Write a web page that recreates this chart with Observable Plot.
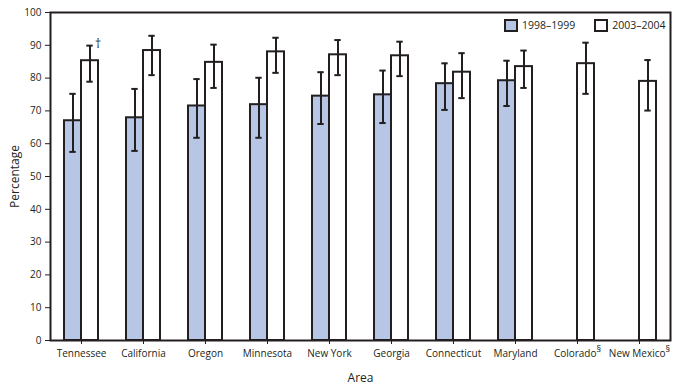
<!DOCTYPE html>
<html>
<head>
<meta charset="utf-8">
<script src="https://cdn.jsdelivr.net/npm/d3@7"></script>
<script src="https://cdn.jsdelivr.net/npm/@observablehq/plot@0.6"></script>
<style>
  html, body { margin: 0; padding: 0; background: #fff; }
  #wrap { position: relative; width: 685px; height: 388px; font-family: "Open Sans", sans-serif; color: #231f20; }
  #legend { position: absolute; top: 18px; left: 504px; display: flex; align-items: center; font-size: 10.5px; }
  .sw { display: inline-block; width: 14px; height: 13px; border: 2px solid #231f20; box-sizing: border-box; margin-right: 4px; }
  .item { display: flex; align-items: center; margin-right: 19px; }
</style>
</head>
<body>
<div id="wrap"><div id="legend"></div></div>
<script>
const areas = ["Tennessee", "California", "Oregon", "Minnesota", "New York", "Georgia", "Connecticut", "Maryland", "Colorado", "New Mexico"];
const areaLabels = ["Tennessee", "California", "Oregon", "Minnesota", "New York", "Georgia", "Connecticut", "Maryland", "Colorado§", "New Mexico§"];
const periods = ["1998–1999", "2003–2004"];
const colors = ["#b7c6e5", "#ffffff"];

const v1998 = [67.0, 67.9, 71.5, 71.9, 74.5, 74.9, 78.3, 79.2, null, null];
const lo1998 = [57.5, 57.8, 61.8, 61.8, 66.0, 66.3, 70.3, 71.5, null, null];
const hi1998 = [75.2, 76.7, 79.7, 80.1, 81.8, 82.3, 84.5, 85.3, null, null];

const v2003 = [85.3, 88.4, 84.8, 88.0, 87.1, 86.8, 81.8, 83.5, 84.4, 79.0];
const lo2003 = [78.9, 80.9, 77.0, 81.6, 80.9, 80.6, 73.9, 77.0, 75.2, 70.1];
const hi2003 = [89.9, 92.9, 90.2, 92.3, 91.6, 91.1, 87.6, 88.4, 90.8, 85.5];

const notes = [{area: "Tennessee", period: "2003–2004", mark: "†"}];

const rows = [];
areas.forEach((a, i) => {
  if (v1998[i] != null) rows.push({area: a, period: periods[0], value: v1998[i], lo: lo1998[i], hi: hi1998[i]});
  if (v2003[i] != null) rows.push({area: a, period: periods[1], value: v2003[i], lo: lo2003[i], hi: hi2003[i]});
});
const noteRows = notes.map(n => ({...n, hi: rows.find(r => r.area === n.area && r.period === n.period).hi}));
const labelOf = Object.fromEntries(areas.map((a, i) => [a, areaLabels[i]]));

const ink = "#231f20";
const chart = Plot.plot({
  width: 685,
  height: 388,
  marginLeft: 48,
  marginRight: 14,
  marginTop: 12,
  marginBottom: 48,
  style: {fontFamily: "'Open Sans', sans-serif", fontSize: "10px", color: ink, background: "#fff"},
  fx: {domain: areas, padding: 0, label: "Area", tickSize: 4, tickFormat: d => labelOf[d], labelAnchor: "center", labelOffset: 41},
  x: {domain: periods, axis: null, paddingInner: 0, paddingOuter: 0.77},
  y: {domain: [0, 100], ticks: d3.range(0, 101, 10), label: "Percentage", labelAnchor: "center", labelArrow: false, tickSize: 5, labelOffset: 40},
  color: {domain: periods, range: colors},
  marks: [
    Plot.barY(rows, {fx: "area", x: "period", y: "value", fill: "period", stroke: ink, strokeWidth: 2}),
    Plot.ruleX(rows, {fx: "area", x: "period", y1: "lo", y2: "hi", stroke: ink, strokeWidth: 2}),
    Plot.tickY(rows, {fx: "area", x: "period", y: "lo", stroke: ink, strokeWidth: 2, insetLeft: 5.3, insetRight: 5.3}),
    Plot.tickY(rows, {fx: "area", x: "period", y: "hi", stroke: ink, strokeWidth: 2, insetLeft: 5.3, insetRight: 5.3}),
    Plot.text(noteRows, {fx: "area", x: "period", y: "hi", text: "mark", dx: 8, dy: -1, fontSize: 12, fill: ink}),
    Plot.frame({facet: "super", stroke: ink, strokeWidth: 2})
  ]
});
document.getElementById("wrap").prepend(chart);

chart.querySelectorAll('g[aria-label="y-axis label"], g[aria-label="fx-axis label"]').forEach(g => {
  g.setAttribute("font-size", "12");
  g.style.fontSize = "12px";
});

// superscript § on labels
chart.querySelectorAll("text").forEach(t => {
  if (t.textContent.includes("§")) {
    const s = t.textContent.replace("§", "");
    t.textContent = s;
    const ts = document.createElementNS("http://www.w3.org/2000/svg", "tspan");
    ts.setAttribute("dy", "-5");
    ts.setAttribute("font-size", "9");
    ts.textContent = "§";
    t.appendChild(ts);
  }
});

const legend = document.getElementById("legend");
periods.forEach((p, i) => {
  const item = document.createElement("div");
  item.className = "item";
  const sw = document.createElement("span");
  sw.className = "sw";
  sw.style.background = colors[i];
  item.appendChild(sw);
  item.appendChild(document.createTextNode(p));
  legend.appendChild(item);
});
</script>
</body>
</html>
